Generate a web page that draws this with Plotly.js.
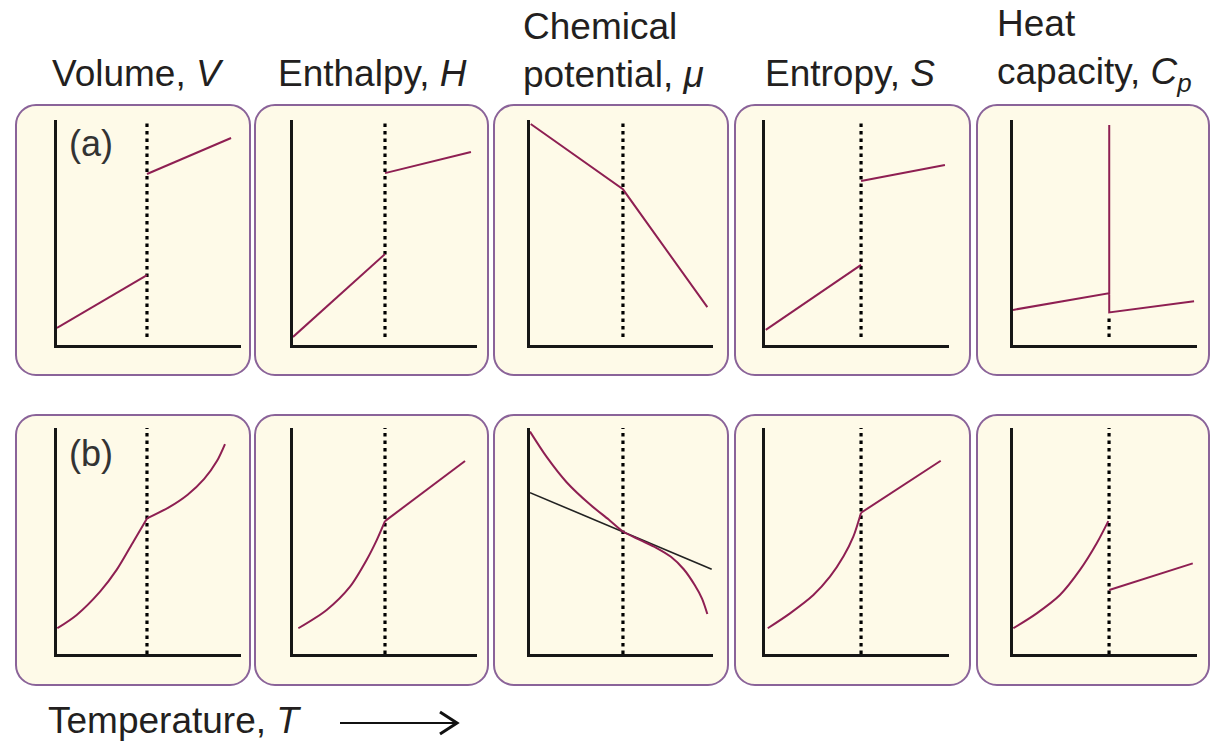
<!DOCTYPE html>
<html>
<head>
<meta charset="utf-8">
<script src="https://cdn.plot.ly/plotly-3.0.1.min.js"></script>
<style>html,body{margin:0;padding:0;background:#fff;}#chart{width:1222px;height:745px;}</style>
</head>
<body>
<div id="chart"></div>
<script>
// ---------- titles ----------
const columnTitles = ['Volume, <i>V</i>', 'Enthalpy, <i>H</i>', 'Chemical<br>potential, <i>μ</i>', 'Entropy, <i>S</i>', 'Heat<br>capacity, <i>C</i><sub><i>p</i></sub>'];
const rowLabels = ['(a)', '(b)'];
const xAxisLabel = 'Temperature, <i>T</i>';

// ---------- transition temperature per column (axis units 0-10) ----------
const transT = [4.89, 5.0, 5.08, 5.22, 5.22];

// ---------- row (a): first-order transition ----------
const volA_lo_x = [0, 4.89],     volA_lo_y = [0.76, 3.11];
const volA_hi_x = [4.89, 9.46],  volA_hi_y = [7.6, 9.2];
const entA_lo_x = [0, 5.0],      entA_lo_y = [0.36, 4.04];
const entA_hi_x = [5.0, 9.67],   entA_hi_y = [7.64, 8.58];
const muA_x = [0.04, 5.08, 9.69], muA_y = [9.82, 6.92, 1.68];
const sA_lo_x = [0.04, 5.22],    sA_lo_y = [0.67, 3.56];
const sA_hi_x = [5.22, 9.78],    sA_hi_y = [7.29, 8.0];
const cpA_x = [0, 5.23, 5.23, 5.23, 9.84], cpA_y = [1.56, 2.3, 9.78, 1.45, 1.94];

// ---------- row (b): second-order transition ----------
const volB_lo_x = [0.02, 1.07, 2.34, 3.24, 4.15, 4.89], volB_lo_y = [1.14, 1.73, 2.76, 3.72, 4.97, 6.0];
const volB_hi_x = [4.89, 6.1, 7.1, 8.0, 8.7, 9.13],    volB_hi_y = [6.0, 6.5, 7.05, 7.75, 8.55, 9.29];
const entB_lo_x = [0.29, 1.83, 3.1, 4.0, 4.55, 5.0],   entB_lo_y = [1.14, 1.95, 2.98, 4.16, 5.04, 5.88];
const entB_hi_x = [5.0, 9.35],  entB_hi_y = [5.88, 8.54];
const muB_x = [0, 0.9, 2.0, 3.3, 4.3, 5.08, 6.0, 6.9, 7.7, 8.4, 9.0, 9.4, 9.69];
const muB_y = [9.84, 8.73, 7.6, 6.6, 5.95, 5.42, 5.05, 4.7, 4.3, 3.75, 3.05, 2.45, 1.77];
const muB_tan_x = [0, 9.93], muB_tan_y = [7.14, 3.75];
const sB_lo_x = [0.15, 1.36, 2.63, 3.53, 4.26, 4.8, 5.22], sB_lo_y = [1.14, 1.8, 2.61, 3.42, 4.31, 5.19, 6.25];
const sB_hi_x = [5.22, 9.55], sB_hi_y = [6.25, 8.55];
const cpB_lo_x = [0.02, 1.29, 2.55, 3.64, 4.55, 5.18], cpB_lo_y = [1.14, 1.8, 2.61, 3.72, 4.9, 5.88];
const cpB_hi_x = [5.23, 9.77], cpB_hi_y = [2.83, 4.01];

// dotted line vertical extents [bottom, top] per row/column
const dotA_lo = [0.36, 0.36, 0.36, 0.36, 0.36], dotA_hi = [10, 10, 10, 10, 1.2];
const dotB_lo = [0, 0, 0, 0, 0],               dotB_hi = [10, 10, 10, 10, 10];

// ---------- layout geometry (pixels) ----------
const W = 1222, H = 745;
const colAxisPx = [[57, 241], [293, 477], [530, 713], [765, 949], [1013, 1197]];
const rowAxisPx = [[120, 345], [428, 654]];
const colBoxPx = [[16, 250], [255, 488], [494, 728], [735, 970], [977, 1209]];
const rowBoxPx = [[105, 375], [415, 685]];
const px = x => x / W, py = y => 1 - y / H;

const CURVE = '#8e1f52', AXIS = '#161616', BOX_FILL = '#fefae8', BOX_LINE = '#8a6399';

const traces = [];
const layout = {
  width: W, height: H, margin: {l: 0, r: 0, t: 0, b: 0},
  paper_bgcolor: '#ffffff', plot_bgcolor: 'rgba(0,0,0,0)',
  showlegend: false, shapes: [], annotations: []
};

function axisName(i) { return i === 0 ? '' : String(i + 1); }

for (let r = 0; r < 2; r++) {
  for (let c = 0; c < 5; c++) {
    const i = r * 5 + c, n = axisName(i);
    const common = {range: [0, 10], showline: true, linewidth: 3, linecolor: AXIS, showgrid: false,
      zeroline: false, showticklabels: false, ticks: '', fixedrange: true};
    layout['xaxis' + n] = Object.assign({}, common, {domain: [px(colAxisPx[c][0]), px(colAxisPx[c][1])], anchor: 'y' + n});
    layout['yaxis' + n] = Object.assign({}, common, {domain: [py(rowAxisPx[r][1]), py(rowAxisPx[r][0])], anchor: 'x' + n});
  }
}

function addLine(i, x, y, opts) {
  const n = axisName(i);
  traces.push(Object.assign({
    type: 'scatter', mode: 'lines', x: x, y: y, xaxis: 'x' + n, yaxis: 'y' + n,
    hoverinfo: 'skip', line: {color: CURVE, width: 2}
  }, opts || {}));
}

// dotted transition lines
for (let c = 0; c < 5; c++) {
  const dot = {line: {color: '#000', width: 3.2, dash: '3.5px,4px'}};
  addLine(c, [transT[c], transT[c]], [dotA_lo[c], dotA_hi[c]], dot);
  addLine(5 + c, [transT[c], transT[c]], [dotB_lo[c], dotB_hi[c]], dot);
}

const sp = {line: {color: CURVE, width: 2, shape: 'spline', smoothing: 0.8}};
// row a
addLine(0, volA_lo_x, volA_lo_y); addLine(0, volA_hi_x, volA_hi_y);
addLine(1, entA_lo_x, entA_lo_y); addLine(1, entA_hi_x, entA_hi_y);
addLine(2, muA_x, muA_y);
addLine(3, sA_lo_x, sA_lo_y); addLine(3, sA_hi_x, sA_hi_y);
addLine(4, cpA_x, cpA_y);
// row b
addLine(5, volB_lo_x, volB_lo_y, sp); addLine(5, volB_hi_x, volB_hi_y, sp);
addLine(6, entB_lo_x, entB_lo_y, sp); addLine(6, entB_hi_x, entB_hi_y);
addLine(7, muB_tan_x, muB_tan_y, {line: {color: '#222', width: 1.6}});
addLine(7, muB_x, muB_y, sp);
addLine(8, sB_lo_x, sB_lo_y, sp); addLine(8, sB_hi_x, sB_hi_y);
addLine(9, cpB_lo_x, cpB_lo_y, sp); addLine(9, cpB_hi_x, cpB_hi_y);

// rounded panel boxes
function roundBox(x0, y0, x1, y1, rad) {
  const k = 0.5523 * rad;
  const P = (x, y) => px(x).toFixed(5) + ',' + py(y).toFixed(5);
  return 'M' + P(x0 + rad, y0) + ' L' + P(x1 - rad, y0) +
    ' C' + P(x1 - rad + k, y0) + ' ' + P(x1, y0 + rad - k) + ' ' + P(x1, y0 + rad) +
    ' L' + P(x1, y1 - rad) +
    ' C' + P(x1, y1 - rad + k) + ' ' + P(x1 - rad + k, y1) + ' ' + P(x1 - rad, y1) +
    ' L' + P(x0 + rad, y1) +
    ' C' + P(x0 + rad - k, y1) + ' ' + P(x0, y1 - rad + k) + ' ' + P(x0, y1 - rad) +
    ' L' + P(x0, y0 + rad) +
    ' C' + P(x0, y0 + rad - k) + ' ' + P(x0 + rad - k, y0) + ' ' + P(x0 + rad, y0) + ' Z';
}
for (let r = 0; r < 2; r++) for (let c = 0; c < 5; c++) {
  layout.shapes.push({type: 'path', xref: 'paper', yref: 'paper', layer: 'below',
    path: roundBox(colBoxPx[c][0], rowBoxPx[r][0], colBoxPx[c][1], rowBoxPx[r][1], 20),
    fillcolor: BOX_FILL, line: {color: BOX_LINE, width: 2}});
}

// arrow next to temperature label
layout.shapes.push({type: 'line', xref: 'paper', yref: 'paper', x0: px(340), x1: px(455), y0: py(723), y1: py(723), line: {color: '#111', width: 2}});
layout.shapes.push({type: 'path', xref: 'paper', yref: 'paper',
  path: 'M' + px(440) + ',' + py(712) + ' L' + px(457) + ',' + py(723) + ' L' + px(440) + ',' + py(734),
  line: {color: '#111', width: 3}});

// titles
const FONT = 'Liberation Sans, Arial, sans-serif';
const titlePos = [
  {x: 138, y: 73, anchor: 'center'},
  {x: 372, y: 73, anchor: 'center'},
  {x: 521, y: 50, anchor: 'left'},
  {x: 850, y: 73, anchor: 'center'},
  {x: 995, y: 50, anchor: 'left'}
];
columnTitles.forEach((t, c) => {
  layout.annotations.push({text: t, xref: 'paper', yref: 'paper', x: px(titlePos[c].x), y: py(titlePos[c].y),
    xanchor: titlePos[c].anchor, yanchor: 'middle', align: 'left', showarrow: false,
    font: {family: FONT, size: 37, color: '#231f20'}});
});
const rowLabelY = [144, 453];
rowLabels.forEach((t, r) => {
  layout.annotations.push({text: t, xref: 'paper', yref: 'paper', x: px(67), y: py(rowLabelY[r]),
    xanchor: 'left', yanchor: 'middle', showarrow: false, font: {family: FONT, size: 36, color: '#333333'}});
});
layout.annotations.push({text: xAxisLabel, xref: 'paper', yref: 'paper', x: px(46), y: py(720),
  xanchor: 'left', yanchor: 'middle', showarrow: false, font: {family: FONT, size: 37, color: '#231f20'}});

Plotly.newPlot('chart', traces, layout, {staticPlot: true, displayModeBar: false});
</script>
</body>
</html>
